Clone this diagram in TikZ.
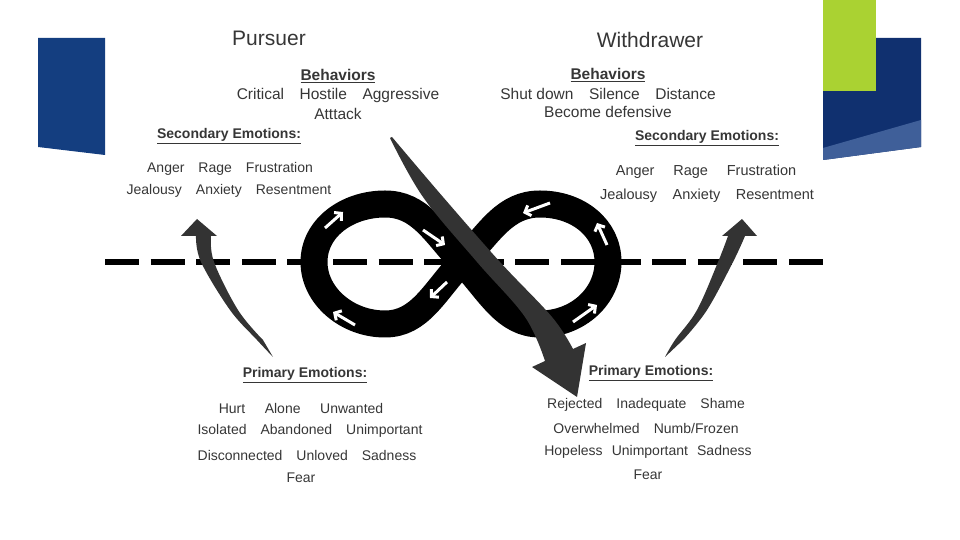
\documentclass[tikz,border=0pt]{standalone}
\usepackage{fontspec}
\setmainfont{Liberation Sans}
\usetikzlibrary{arrows.meta}

\definecolor{slideblue}{HTML}{143E80}
\definecolor{deepblue}{HTML}{10306F}
\definecolor{paleblue}{HTML}{3F5F99}
\definecolor{slidegreen}{HTML}{AAD232}
\definecolor{textgray}{HTML}{363636}
\definecolor{arrowgray}{HTML}{333333}

\begin{document}
\begin{tikzpicture}[x = 1pt, y = 1pt,
        txt/.style = {text = textgray, inner sep = 0pt},
        title/.style = {txt, font = \fontsize{21}{24}\selectfont},
        behave/.style = {txt, font = \fontsize{15.5}{18}\selectfont},
        behavehead/.style = {txt, font = \fontsize{15.5}{18}\selectfont\bfseries},
        emo/.style = {txt, font = \fontsize{14}{16}\selectfont},
        bigemo/.style = {txt, font = \fontsize{14.5}{17}\selectfont},
        emohead/.style = {txt, font = \fontsize{14}{16}\selectfont\bfseries},
        flow/.style = {white, line width = 3pt, -{Straight Barb[length = 5pt, width = 11pt]}}]
        \useasboundingbox (0, 0) rectangle (960, 540);

        % slide corners
        \fill [slideblue] (38, 502) -- (105, 502) -- (105, 385) -- (38, 393) -- cycle;
        \fill [deepblue] (823, 502) -- (921, 502) -- (921, 393) -- (823, 380) -- cycle;
        \fill [paleblue] (823, 392) -- (921, 420) -- (921, 393) -- (823, 380) -- cycle;
        \fill [slidegreen] (823, 540) rectangle (876, 449);

        \draw [line width = 6pt, dash pattern = on 34pt off 11.6pt]
            (105, 278) -- (823, 278)
        ;

        % the loop
        \draw [line width = 27pt, line join = round]
            (462, 278) .. controls (490, 308) and (505, 336) .. (540, 336)
            .. controls (578, 336) and (608, 312) .. (608, 278)
            .. controls (608, 244) and (578, 216) .. (540, 216)
            .. controls (505, 216) and (490, 248) .. (462, 278)
            .. controls (434, 308) and (420, 336) .. (385, 336)
            .. controls (347, 336) and (314, 312) .. (314, 278)
            .. controls (314, 244) and (347, 216) .. (385, 216)
            .. controls (420, 216) and (434, 248) .. cycle
        ;

        \foreach \xa/\ya/\xb/\yb in {325/312/343/328, 423/310/445/295, 447/258/430/242,
                355/215/333/228, 550/337/523/327, 607/295/597/317, 573/218/597/235}
            \draw [flow] (\xa, \ya) -- (\xb, \yb);

        % tapered arrows
        \fill [arrowgray]
            plot [smooth, tension = 0.6] coordinates {(196, 304) (201, 278) (230, 230) (257, 200) (273, 183)}
            -- plot [smooth, tension = 0.6] coordinates {(263, 200) (238, 230) (214, 278) (211, 304)}
            -- (217, 304) -- (197, 321) -- (181, 304) -- cycle
        ;
        \fill [arrowgray]
            plot [smooth, tension = 0.6] coordinates {(728, 304) (718, 278) (697, 230) (675, 200) (665, 183)}
            -- plot [smooth, tension = 0.6] coordinates {(683, 200) (707, 230) (733, 278) (745, 304)}
            -- (757, 304) -- (742, 321) -- (722, 304) -- cycle
        ;
        \fill [arrowgray]
            plot [smooth, tension = 0.6] coordinates {(390, 402) (423, 343) (477, 278) (525, 223) (545, 179)}
            -- (532, 173) -- (577, 143) -- (586, 197)
            -- plot [smooth, tension = 0.6] coordinates {(573, 191) (552, 223) (500, 278) (443, 343) (392, 403)}
            -- cycle
        ;

        % pursuer side
        \node [title] (pursuer) at (269, 502) {Pursuer};
        \node [behavehead] (pbeh) at (338, 464) {\underline{Behaviors}};
        \node [behave] (pbeh1) at (338, 444) {Critical\quad Hostile\quad Aggressive};
        \node [behave] (pbeh2) at (338, 426) {Atttack};
        \node [emohead] (psec) at (229, 404) {\underline{Secondary Emotions:}};
        \node [emo] (psec1) at (230, 371) {Anger\quad Rage\quad Frustration};
        \node [emo] (psec2) at (229, 349) {Jealousy\quad Anxiety\quad Resentment};
        \node [emohead] (pprim) at (305, 165) {\underline{Primary Emotions:}};
        \node [emo] (pprim1) at (301, 132) {Hurt\hspace{1.4em}Alone\hspace{1.4em}Unwanted};
        \node [emo] (pprim2) at (310, 109) {Isolated\quad Abandoned\quad Unimportant};
        \node [emo] (pprim3) at (307, 85) {Disconnected\quad Unloved\quad Sadness};
        \node [emo] (pprim4) at (301, 62) {Fear};

        % withdrawer side
        \node [title] (withdrawer) at (650, 500) {Withdrawer};
        \node [behavehead] (wbeh) at (608, 465) {\underline{Behaviors}};
        \node [behave] (wbeh1) at (608, 446) {Shut down\quad Silence\quad Distance};
        \node [behave] (wbeh2) at (608, 428) {Become defensive};
        \node [emohead] (wsec) at (707, 402) {\underline{Secondary Emotions:}};
        \node [bigemo] (wsec1) at (706, 368) {Anger\hspace{1.3em}Rage\hspace{1.3em}Frustration};
        \node [bigemo] (wsec2) at (707, 344) {Jealousy\hspace{1.07em}Anxiety\hspace{1.07em}Resentment};
        \node [emohead] (wprim) at (651, 167) {\underline{Primary Emotions:}};
        \node [emo] (wprim1) at (646, 135) {Rejected\quad Inadequate\quad Shame};
        \node [emo] (wprim2) at (646, 112) {Overwhelmed\quad Numb/Frozen};
        \node [emo] (wprim3) at (648, 88) {Hopeless\hspace{0.65em}Unimportant\hspace{0.65em}Sadness};
        \node [emo] (wprim4) at (648, 65) {Fear};
    \end{tikzpicture}
\end{document}
